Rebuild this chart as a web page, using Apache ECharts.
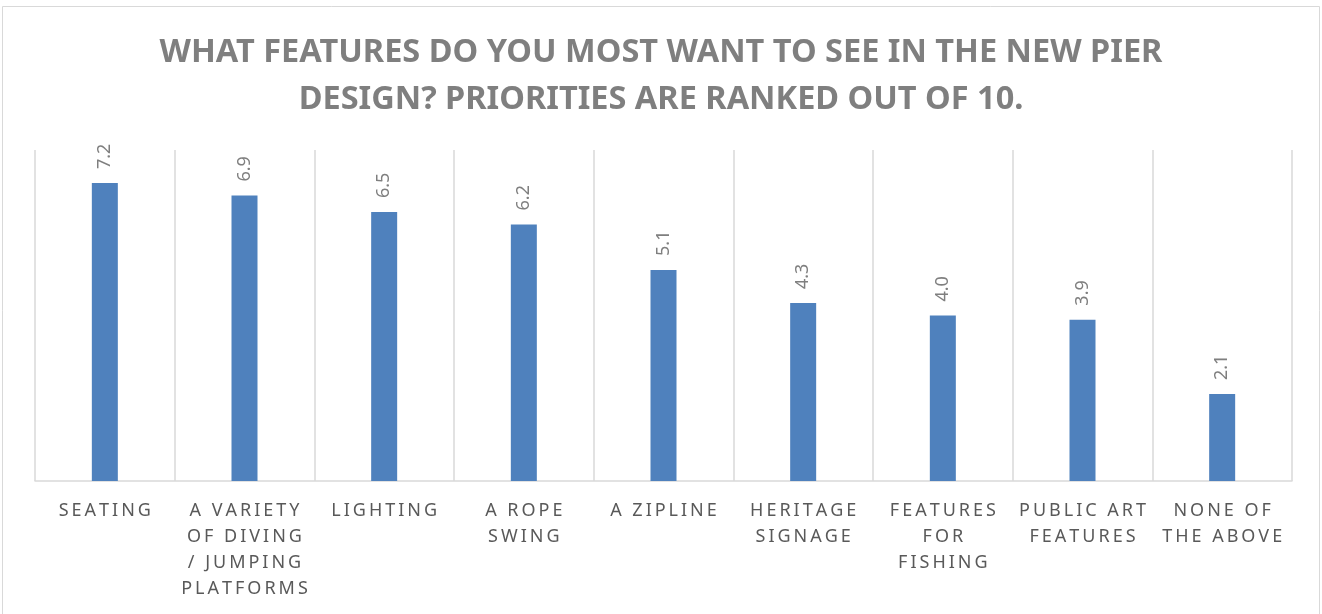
<!DOCTYPE html>
<html>
<head>
<meta charset="utf-8">
<script src="https://cdn.jsdelivr.net/npm/echarts@6/dist/echarts.min.js"></script>
<style>html,body{margin:0;padding:0;background:#fff}#c{width:1322px;height:614px}</style>
</head>
<body>
<div id="c"></div>
<script>
const titleText = 'WHAT FEATURES DO YOU MOST WANT TO SEE IN THE NEW PIER\nDESIGN? PRIORITIES ARE RANKED OUT OF 10.';
const categories = ['SEATING', 'A VARIETY\nOF DIVING\n/ JUMPING\nPLATFORMS', 'LIGHTING', 'A ROPE\nSWING', 'A ZIPLINE', 'HERITAGE\nSIGNAGE', 'FEATURES\nFOR\nFISHING', 'PUBLIC ART\nFEATURES', 'NONE OF\nTHE ABOVE'];
const values = [7.2, 6.9, 6.5, 6.2, 5.1, 4.3, 4.0, 3.9, 2.1];

const spaced = s => s.split('\n').map(l => l.split('').join('\u2009')).join('\n');

const chart = echarts.init(document.getElementById('c'));
chart.setOption({
  animation: false,
  backgroundColor: '#fff',
  title: {
    text: titleText,
    left: 'center',
    top: 24,
    textStyle: { fontFamily: 'Noto Sans', fontWeight: 'bold', fontSize: 32.5, color: '#7f7f7f', lineHeight: 47 }
  },
  graphic: [{
    type: 'rect', silent: true, z: -1,
    shape: { x: 2.5, y: 6.5, width: 1317, height: 620 },
    style: { fill: 'none', stroke: '#d9d9d9', lineWidth: 1 }
  }],
  grid: { left: 35, right: 30, top: 150, bottom: 133 },
  xAxis: {
    type: 'category',
    data: categories,
    axisLine: { lineStyle: { color: '#d9d9d9', width: 1.5 } },
    axisTick: { show: false },
    splitLine: { show: true, lineStyle: { color: '#d9d9d9', width: 1.5 } },
    axisLabel: {
      interval: 0,
      margin: 17,
      color: '#595959',
      fontFamily: 'Noto Sans',
      fontSize: 18,
      lineHeight: 26,
      formatter: v => spaced(v)
    }
  },
  yAxis: { type: 'value', min: 0, max: 8, show: false, splitLine: { show: false } },
  series: [{
    type: 'bar',
    data: values,
    barWidth: 26,
    itemStyle: { color: '#4f81bd' },
    label: {
      show: true,
      position: 'top',
      rotate: 90,
      align: 'left',
      verticalAlign: 'middle',
      distance: 14,
      color: '#7f7f7f',
      fontFamily: 'Noto Sans',
      fontSize: 18,
      formatter: p => p.value.toFixed(1)
    }
  }]
});
</script>
</body>
</html>
